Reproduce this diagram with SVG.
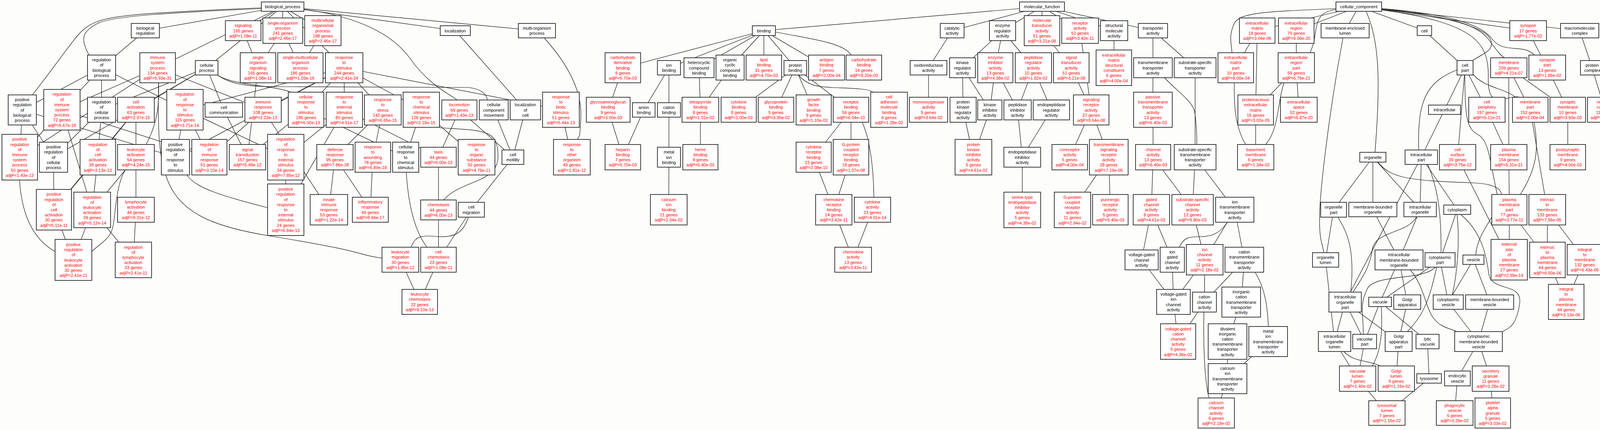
<svg xmlns="http://www.w3.org/2000/svg" width="4157" height="1101" viewBox="0 0 4157 1101">
<style>
.e line,.e path{stroke:#111;stroke-width:1.2;fill:none}
.n rect{fill:#fff;stroke:#2b2b2b;stroke-width:1.8}
.n text{font-family:"Liberation Sans",Arial,sans-serif;font-size:11px;text-anchor:middle}
.r text{fill:#f00}
.k text{fill:#000}
</style>
<rect width="4157" height="1101" fill="#fdfdfb"/>
<g id="connectors" class="e">
<line x1="723.5" y1="17" x2="372" y2="78.5"/>
<line x1="723.5" y1="17" x2="622.5" y2="78.5"/>
<line x1="723.5" y1="17" x2="724" y2="78.5"/>
<line x1="723.5" y1="17" x2="826.5" y2="78.5"/>
<line x1="723.5" y1="17" x2="1165.5" y2="78.5"/>
<line x1="723.5" y1="17" x2="1374.5" y2="78.5"/>
<line x1="723.5" y1="17" x2="403.5" y2="173.5"/>
<line x1="723.5" y1="17" x2="529" y2="173.5"/>
<line x1="723.5" y1="17" x2="881" y2="173.5"/>
<path d="M778,24 C900,40 1000,80 1050,150 S1150,240 1170,256"/>
<path d="M669,22 C450,32 290,40 250,60 S205,100 228,141"/>
<path d="M669,20 C450,30 300,35 250,55 S205,85 83,243"/>
<line x1="372" y1="78.5" x2="260" y2="173"/>
<line x1="622.5" y1="78.5" x2="660.5" y2="173.5"/>
<line x1="724" y1="78.5" x2="660.5" y2="173.5"/>
<line x1="724" y1="78.5" x2="769" y2="173.5"/>
<line x1="826.5" y1="78.5" x2="769" y2="173.5"/>
<line x1="260" y1="173" x2="57" y2="281.5"/>
<line x1="260" y1="173" x2="158.5" y2="281"/>
<line x1="260" y1="173" x2="260" y2="281"/>
<line x1="260" y1="173" x2="473.5" y2="281"/>
<line x1="403.5" y1="173.5" x2="158.5" y2="281"/>
<line x1="403.5" y1="173.5" x2="673.5" y2="281"/>
<path d="M406,212 L406,250 C405,300 390,340 374,370"/>
<line x1="403.5" y1="173.5" x2="50.5" y2="402.5"/>
<path d="M406,212 C400,480 420,560 690,604 S900,650 978,661"/>
<line x1="529" y1="173.5" x2="260" y2="281"/>
<line x1="529" y1="173.5" x2="348" y2="281"/>
<line x1="529" y1="173.5" x2="573" y2="281.5"/>
<path d="M556,192 C600,220 700,218 745,236"/>
<path d="M558,193 C600,222 650,222 750,222 L1200,224 C1230,228 1245,240 1248,256"/>
<line x1="529" y1="173.5" x2="137" y2="402.5"/>
<line x1="660.5" y1="173.5" x2="633.5" y2="402.5"/>
<line x1="881" y1="173.5" x2="473.5" y2="281"/>
<line x1="881" y1="173.5" x2="673.5" y2="281"/>
<line x1="881" y1="173.5" x2="783.5" y2="281"/>
<line x1="881" y1="173.5" x2="881.5" y2="281"/>
<line x1="881" y1="173.5" x2="980" y2="281.5"/>
<line x1="881" y1="173.5" x2="1078.5" y2="281"/>
<line x1="881" y1="173.5" x2="1436" y2="281"/>
<line x1="881" y1="173.5" x2="449" y2="402.5"/>
<line x1="1165.5" y1="78.5" x2="1345" y2="281.5"/>
<path d="M1393,97 C1450,160 1490,230 1487,300 S1482,340 1479,357"/>
<line x1="57" y1="281.5" x2="50.5" y2="402.5"/>
<line x1="57" y1="281.5" x2="137" y2="402.5"/>
<line x1="57" y1="281.5" x2="449" y2="402.5"/>
<line x1="158.5" y1="281" x2="50.5" y2="402.5"/>
<line x1="158.5" y1="281" x2="236" y2="537.5"/>
<line x1="158.5" y1="281" x2="536" y2="402.5"/>
<line x1="260" y1="281" x2="137" y2="402.5"/>
<line x1="260" y1="281" x2="250.5" y2="402.5"/>
<line x1="348" y1="281" x2="250.5" y2="402.5"/>
<line x1="348" y1="281" x2="348" y2="402.5"/>
<line x1="348" y1="281" x2="138" y2="537"/>
<line x1="473.5" y1="281" x2="449" y2="402.5"/>
<line x1="473.5" y1="281" x2="536" y2="402.5"/>
<line x1="473.5" y1="281" x2="731.5" y2="402.5"/>
<line x1="573" y1="281.5" x2="633.5" y2="402.5"/>
<line x1="673.5" y1="281" x2="536" y2="402.5"/>
<line x1="673.5" y1="281" x2="842" y2="537"/>
<line x1="783.5" y1="281" x2="633.5" y2="402.5"/>
<line x1="783.5" y1="281" x2="1038.5" y2="402.5"/>
<line x1="881.5" y1="281" x2="731.5" y2="402.5"/>
<line x1="881.5" y1="281" x2="1122.5" y2="402.5"/>
<line x1="881.5" y1="281" x2="731.5" y2="537"/>
<line x1="980" y1="281.5" x2="857.5" y2="402.5"/>
<line x1="980" y1="281.5" x2="954.5" y2="402.5"/>
<line x1="1078.5" y1="281" x2="1038.5" y2="402.5"/>
<line x1="1078.5" y1="281" x2="1220" y2="402.5"/>
<path d="M1125,327 C1240,335 1275,330 1275,400 S1180,460 1136,512"/>
<line x1="1176" y1="281.5" x2="1122.5" y2="402.5"/>
<line x1="1176" y1="281.5" x2="1313" y2="402.5"/>
<line x1="1264" y1="281.5" x2="1313" y2="402.5"/>
<line x1="1345" y1="281.5" x2="1313" y2="402.5"/>
<line x1="1436" y1="281" x2="1464" y2="402.5"/>
<path d="M50,461 C55,540 80,610 141,644"/>
<line x1="137" y1="402.5" x2="138" y2="537"/>
<line x1="250.5" y1="402.5" x2="138" y2="537"/>
<line x1="250.5" y1="402.5" x2="236" y2="537.5"/>
<line x1="348" y1="402.5" x2="236" y2="537.5"/>
<line x1="348" y1="402.5" x2="348" y2="537"/>
<path d="M321,435 C298,470 296,540 290,576 S260,620 235,644"/>
<path d="M478,448 C500,480 560,500 686,532"/>
<line x1="731.5" y1="402.5" x2="731.5" y2="537"/>
<line x1="857.5" y1="402.5" x2="842" y2="537"/>
<line x1="857.5" y1="402.5" x2="948" y2="537"/>
<line x1="954.5" y1="402.5" x2="948" y2="537"/>
<path d="M1040,441 C1045,520 1060,590 1093,633"/>
<line x1="1122.5" y1="402.5" x2="1122.5" y2="537.5"/>
<line x1="1313" y1="402.5" x2="1206.5" y2="537"/>
<line x1="138" y1="537" x2="188" y2="665.5"/>
<line x1="236" y1="537.5" x2="188" y2="665.5"/>
<line x1="236" y1="537.5" x2="341.5" y2="665.5"/>
<line x1="348" y1="537" x2="341.5" y2="665.5"/>
<line x1="1122.5" y1="537.5" x2="1122.5" y2="665"/>
<line x1="1206.5" y1="537" x2="1122.5" y2="665"/>
<path d="M1199,556 C1185,600 1160,610 1110,605 S1060,620 1052,633"/>
<line x1="1025" y1="665" x2="1074.5" y2="773"/>
<line x1="1122.5" y1="665" x2="1074.5" y2="773"/>
<line x1="2667.5" y1="17" x2="1955.5" y2="78.5"/>
<line x1="2667.5" y1="17" x2="2437.5" y2="78.5"/>
<line x1="2667.5" y1="17" x2="2566.5" y2="78.5"/>
<line x1="2667.5" y1="17" x2="2667.5" y2="78.5"/>
<line x1="2667.5" y1="17" x2="2765" y2="78.5"/>
<line x1="2667.5" y1="17" x2="2852" y2="78.5"/>
<line x1="2667.5" y1="17" x2="2951.5" y2="78.5"/>
<line x1="1955.5" y1="78.5" x2="1594.5" y2="173.5"/>
<line x1="1955.5" y1="78.5" x2="1712.5" y2="173.5"/>
<line x1="1955.5" y1="78.5" x2="1789.5" y2="173.5"/>
<line x1="1955.5" y1="78.5" x2="1869" y2="173"/>
<line x1="1955.5" y1="78.5" x2="1955.5" y2="173"/>
<line x1="1955.5" y1="78.5" x2="2036" y2="173.5"/>
<line x1="1955.5" y1="78.5" x2="2116" y2="173"/>
<path d="M1985,82 C2080,100 2160,110 2179,141"/>
<line x1="1594.5" y1="173.5" x2="1557" y2="281"/>
<line x1="1557" y1="281" x2="1594.5" y2="402.5"/>
<line x1="1648" y1="281.5" x2="1594.5" y2="402.5"/>
<line x1="1712.5" y1="173.5" x2="1648" y2="281.5"/>
<line x1="1712.5" y1="173.5" x2="1712.5" y2="281.5"/>
<line x1="1712.5" y1="281.5" x2="1712.5" y2="402.5"/>
<line x1="1712.5" y1="402.5" x2="1712" y2="537"/>
<line x1="1789.5" y1="173.5" x2="1793" y2="281"/>
<line x1="1869" y1="173" x2="1793" y2="281"/>
<line x1="1793" y1="281" x2="1793" y2="402.5"/>
<line x1="2036" y1="173.5" x2="1891" y2="281"/>
<line x1="2036" y1="173.5" x2="1986.5" y2="281"/>
<line x1="2036" y1="173.5" x2="2083" y2="281.5"/>
<line x1="2036" y1="173.5" x2="2178.5" y2="281"/>
<path d="M2045,193 C2070,222 2100,222 2130,224 S2220,225 2235,236"/>
<line x1="2178.5" y1="281" x2="2083" y2="402.5"/>
<line x1="2178.5" y1="281" x2="2178.5" y2="402.5"/>
<path d="M2207,313 C2220,340 2236,400 2237,505"/>
<line x1="2083" y1="402.5" x2="2134.5" y2="537"/>
<line x1="2178.5" y1="402.5" x2="2134.5" y2="537"/>
<line x1="2134.5" y1="537" x2="2184" y2="665"/>
<line x1="2233.5" y1="537" x2="2184" y2="665"/>
<line x1="2437.5" y1="78.5" x2="2377" y2="173.5"/>
<line x1="2377" y1="173.5" x2="2377" y2="281"/>
<line x1="2566.5" y1="78.5" x2="2464" y2="173.5"/>
<line x1="2566.5" y1="78.5" x2="2548" y2="173.5"/>
<line x1="2566.5" y1="78.5" x2="2645.5" y2="173.5"/>
<line x1="2464" y1="173.5" x2="2465.5" y2="281"/>
<line x1="2464" y1="173.5" x2="2534" y2="281.5"/>
<line x1="2548" y1="173.5" x2="2534" y2="281.5"/>
<line x1="2548" y1="173.5" x2="2605" y2="281.5"/>
<line x1="2645.5" y1="173.5" x2="2605" y2="281.5"/>
<line x1="2645.5" y1="173.5" x2="2691.5" y2="281.5"/>
<line x1="2465.5" y1="281" x2="2492" y2="402.5"/>
<line x1="2534" y1="281.5" x2="2492" y2="402.5"/>
<line x1="2605" y1="281.5" x2="2617" y2="402.5"/>
<line x1="2691.5" y1="281.5" x2="2617" y2="402.5"/>
<line x1="2617" y1="402.5" x2="2617" y2="537.5"/>
<line x1="2667.5" y1="78.5" x2="2742.5" y2="173.5"/>
<line x1="2765" y1="78.5" x2="2793.5" y2="281.5"/>
<line x1="2742.5" y1="173.5" x2="2793.5" y2="281.5"/>
<line x1="2793.5" y1="281.5" x2="2738.5" y2="402.5"/>
<line x1="2793.5" y1="281.5" x2="2838.5" y2="402.5"/>
<line x1="2838.5" y1="402.5" x2="2745.5" y2="537.5"/>
<line x1="2838.5" y1="402.5" x2="2842.5" y2="537"/>
<line x1="2852" y1="78.5" x2="2851.5" y2="173.5"/>
<line x1="2951.5" y1="78.5" x2="2951.5" y2="173.5"/>
<line x1="2951.5" y1="78.5" x2="3059.5" y2="173.5"/>
<line x1="2951.5" y1="173.5" x2="2951.5" y2="281"/>
<path d="M2981,199 C3020,240 3055,260 3059,290 S3064,340 3064,370"/>
<line x1="3059.5" y1="173.5" x2="3059.5" y2="402.5"/>
<line x1="2951.5" y1="281" x2="2952" y2="402.5"/>
<line x1="2952" y1="402.5" x2="2947.5" y2="537"/>
<line x1="2952" y1="402.5" x2="3053" y2="537"/>
<line x1="3059.5" y1="402.5" x2="3053" y2="537"/>
<line x1="3059.5" y1="402.5" x2="3161" y2="537"/>
<line x1="2947.5" y1="537" x2="2922.5" y2="665.5"/>
<line x1="2947.5" y1="537" x2="3001" y2="665"/>
<line x1="3053" y1="537" x2="3084" y2="665"/>
<line x1="3161" y1="537" x2="3084" y2="665"/>
<line x1="3161" y1="537" x2="3185.5" y2="665"/>
<path d="M3142,570 C3120,600 3100,606 3070,606 S3030,610 3019,633"/>
<line x1="2922.5" y1="665.5" x2="3004" y2="773"/>
<line x1="3001" y1="665" x2="3004" y2="773"/>
<line x1="3084" y1="665" x2="3004" y2="773"/>
<line x1="3084" y1="665" x2="3083.5" y2="773.5"/>
<line x1="3185.5" y1="665" x2="3083.5" y2="773.5"/>
<line x1="3185.5" y1="665" x2="3177.5" y2="773.5"/>
<path d="M3213,697 C3240,740 3245,790 3247,836"/>
<line x1="3004" y1="773" x2="3016" y2="874.5"/>
<line x1="3083.5" y1="773.5" x2="3016" y2="874.5"/>
<path d="M3082,799 C3080,900 3085,980 3095,1019"/>
<line x1="3177.5" y1="773.5" x2="3142.5" y2="874.5"/>
<line x1="3142.5" y1="874.5" x2="3142.5" y2="969.5"/>
<line x1="3246.5" y1="874.5" x2="3142.5" y2="969.5"/>
<line x1="3142.5" y1="969.5" x2="3113.5" y2="1057.5"/>
<line x1="3478.5" y1="17" x2="3218.5" y2="78.5"/>
<line x1="3478.5" y1="17" x2="3318.5" y2="78.5"/>
<line x1="3478.5" y1="17" x2="3443.5" y2="78.5"/>
<path d="M3420,22 C3250,30 3175,30 3160,60 S3152,110 3154,135"/>
<path d="M3420,24 C3380,30 3372,50 3368,80 S3360,120 3354,135"/>
<line x1="3478.5" y1="17" x2="3646.5" y2="78.5"/>
<line x1="3478.5" y1="17" x2="3912" y2="78.5"/>
<line x1="3478.5" y1="17" x2="4044" y2="78.5"/>
<path d="M3497,29 C3530,100 3535,200 3520,390"/>
<path d="M3537,25 C3700,40 3780,60 3810,100 S3840,140 3851,148"/>
<path d="M3537,22 C3700,35 3790,60 3820,100 S3900,110 3928,141"/>
<path d="M3537,22 C3700,40 3800,70 3815,100 S3790,140 3770,155"/>
<path d="M3537,25 C3780,60 3812,110 3810,200 S3860,240 3890,249"/>
<path d="M3438,97 C3400,300 3378,500 3378,560 S3385,620 3389,647"/>
<line x1="3218.5" y1="78.5" x2="3163.5" y2="173.5"/>
<line x1="3218.5" y1="78.5" x2="3214.5" y2="281.5"/>
<line x1="3318.5" y1="78.5" x2="3318.5" y2="173.5"/>
<line x1="3318.5" y1="173.5" x2="3214.5" y2="281.5"/>
<line x1="3318.5" y1="173.5" x2="3325" y2="281"/>
<path d="M3287,212 C3270,260 3275,330 3240,370"/>
<path d="M3160,212 C3158,280 3165,330 3189,370"/>
<line x1="3214.5" y1="281.5" x2="3214.5" y2="402.5"/>
<line x1="3646.5" y1="78.5" x2="3750.5" y2="173.5"/>
<line x1="3912" y1="78.5" x2="3961" y2="173"/>
<line x1="4044" y1="78.5" x2="4076" y2="173.5"/>
<line x1="4076" y1="173.5" x2="4108" y2="281"/>
<line x1="3750.5" y1="173.5" x2="3698" y2="281"/>
<path d="M3730,179 C3650,210 3628,260 3632,384"/>
<line x1="3750.5" y1="173.5" x2="3806.5" y2="281"/>
<line x1="3750.5" y1="173.5" x2="3731.5" y2="402.5"/>
<path d="M3750,193 C3750,300 3755,330 3784,345 S3815,420 3833,498"/>
<path d="M3771,190 C3800,225 3850,225 3880,249"/>
<line x1="3862.5" y1="173.5" x2="3917.5" y2="281"/>
<line x1="3862.5" y1="173.5" x2="3862.5" y2="402.5"/>
<line x1="3862.5" y1="173.5" x2="4013.5" y2="281"/>
<line x1="3961" y1="173" x2="4013.5" y2="281"/>
<line x1="3806.5" y1="281" x2="3862.5" y2="402.5"/>
<path d="M3927,313 C3940,380 3935,430 3892,498"/>
<line x1="3917.5" y1="281" x2="3961" y2="537"/>
<line x1="4013.5" y1="281" x2="4013.5" y2="402.5"/>
<line x1="3862.5" y1="402.5" x2="3864" y2="537"/>
<line x1="3961" y1="537" x2="3961.5" y2="665.5"/>
<line x1="3961" y1="537" x2="4057" y2="665"/>
<line x1="3864" y1="537" x2="3863.5" y2="665"/>
<line x1="3864" y1="537" x2="3961.5" y2="665.5"/>
<line x1="3731.5" y1="402.5" x2="3863.5" y2="665"/>
<line x1="3961.5" y1="665.5" x2="4009.5" y2="773"/>
<line x1="4057" y1="665" x2="4009.5" y2="773"/>
<line x1="3698" y1="281" x2="3638.5" y2="402.5"/>
<line x1="3514.5" y1="402.5" x2="3514.5" y2="536.5"/>
<line x1="3514.5" y1="402.5" x2="3635.5" y2="536.5"/>
<line x1="3514.5" y1="402.5" x2="3414" y2="537"/>
<path d="M3527,415 C3560,455 3600,462 3766,468 S3782,560 3778,653"/>
<line x1="3638.5" y1="402.5" x2="3635.5" y2="536.5"/>
<line x1="3638.5" y1="402.5" x2="3730.5" y2="537"/>
<path d="M3655,421 C3680,480 3690,540 3689,647"/>
<line x1="3638.5" y1="402.5" x2="3443.5" y2="773.5"/>
<line x1="3635.5" y1="536.5" x2="3581.5" y2="665.5"/>
<line x1="3514.5" y1="536.5" x2="3581.5" y2="665.5"/>
<line x1="3414" y1="537" x2="3393.5" y2="665.5"/>
<path d="M3425,556 C3445,590 3470,630 3458,748"/>
<path d="M3626,556 C3600,600 3520,590 3513,640 S3480,720 3464,748"/>
<line x1="3393.5" y1="665.5" x2="3416.5" y2="874.5"/>
<line x1="3443.5" y1="773.5" x2="3416.5" y2="874.5"/>
<line x1="3443.5" y1="773.5" x2="3493.5" y2="874.5"/>
<line x1="3443.5" y1="773.5" x2="3580.5" y2="874.5"/>
<line x1="3581.5" y1="665.5" x2="3533" y2="773"/>
<line x1="3581.5" y1="665.5" x2="3602.5" y2="773.5"/>
<path d="M3610,691 C3645,730 3650,790 3670,815 S3710,840 3730,849"/>
<line x1="3686.5" y1="665.5" x2="3533" y2="773"/>
<path d="M3678,684 C3660,760 3650,800 3603,849"/>
<path d="M3675,684 C3640,720 3520,700 3500,740 S3490,800 3490,856"/>
<line x1="3686.5" y1="665.5" x2="3707.5" y2="773.5"/>
<line x1="3730.5" y1="537" x2="3686.5" y2="665.5"/>
<path d="M3730,549 C3738,620 3730,700 3718,755"/>
<path d="M3739,549 C3790,590 3805,650 3811,700 S3900,720 3890,780 S3860,840 3847,849"/>
<line x1="3772" y1="665" x2="3707.5" y2="773.5"/>
<line x1="3772" y1="665" x2="3813.5" y2="773.5"/>
<line x1="3533" y1="773" x2="3493.5" y2="874.5"/>
<line x1="3533" y1="773" x2="3654.5" y2="874.5"/>
<path d="M3536,785 C3540,850 3535,900 3513,937"/>
<line x1="3602.5" y1="773.5" x2="3580.5" y2="874.5"/>
<line x1="3707.5" y1="773.5" x2="3785" y2="874.5"/>
<line x1="3813.5" y1="773.5" x2="3785" y2="874.5"/>
<line x1="3493.5" y1="874.5" x2="3475.5" y2="969.5"/>
<line x1="3580.5" y1="874.5" x2="3574.5" y2="969.5"/>
<line x1="3416.5" y1="874.5" x2="3475.5" y2="969.5"/>
<path d="M3440,900 C3470,930 3500,920 3533,937"/>
<line x1="3654.5" y1="874.5" x2="3658.5" y2="969"/>
<line x1="3785" y1="874.5" x2="3731" y2="969"/>
<line x1="3785" y1="874.5" x2="3816" y2="969.5"/>
<line x1="3475.5" y1="969.5" x2="3550.5" y2="1057.5"/>
<line x1="3658.5" y1="969" x2="3550.5" y2="1057.5"/>
<line x1="3731" y1="969" x2="3724" y2="1057.5"/>
<line x1="3816" y1="969.5" x2="3821.5" y2="1057.5"/>
</g>
<g id="nodes">
<g id="biological_process" class="n k"><rect x="669" y="5" width="109" height="24"/><text x="723.5" y="21">biological_process</text></g>
<g id="biological_regulation" class="n k"><rect x="336" y="60" width="72" height="37"/><text x="372" y="75.9">biological<tspan x="372" dy="13.2">regulation</tspan></text></g>
<g id="signaling" class="n r"><rect x="577" y="53" width="91" height="51"/><text x="622.5" y="69.3">signaling<tspan x="622.5" dy="13.2">165 genes</tspan><tspan x="622.5" dy="13.2">adjP=1.08e-11</tspan></text></g>
<g id="single_organism_process" class="n r"><rect x="673" y="46" width="102" height="65"/><text x="724" y="62.7">single-organism<tspan x="724" dy="13.2">process</tspan><tspan x="724" dy="13.2">241 genes</tspan><tspan x="724" dy="13.2">adjP=2.46e-17</tspan></text></g>
<g id="multicellular_organismal_process" class="n r"><rect x="780" y="40" width="93" height="77"/><text x="826.5" y="56.1">multicellular<tspan x="826.5" dy="13.2">organismal</tspan><tspan x="826.5" dy="13.2">process</tspan><tspan x="826.5" dy="13.2">188 genes</tspan><tspan x="826.5" dy="13.2">adjP=2.46e-17</tspan></text></g>
<g id="regulation_of_biological_process" class="n k"><rect x="224" y="141" width="72" height="64"/><text x="260" y="157.2">regulation<tspan x="260" dy="13.2">of</tspan><tspan x="260" dy="13.2">biological</tspan><tspan x="260" dy="13.2">process</tspan></text></g>
<g id="immune_system_process" class="n r"><rect x="358" y="135" width="91" height="77"/><text x="403.5" y="151.1">immune<tspan x="403.5" dy="13.2">system</tspan><tspan x="403.5" dy="13.2">process</tspan><tspan x="403.5" dy="13.2">134 genes</tspan><tspan x="403.5" dy="13.2">adjP=5.93e-31</tspan></text></g>
<g id="cellular_process" class="n k"><rect x="500" y="155" width="58" height="37"/><text x="529" y="170.9">cellular<tspan x="529" dy="13.2">process</tspan></text></g>
<g id="single_organism_signaling" class="n r"><rect x="615" y="135" width="91" height="77"/><text x="660.5" y="151.1">single<tspan x="660.5" dy="13.2">organism</tspan><tspan x="660.5" dy="13.2">signaling</tspan><tspan x="660.5" dy="13.2">165 genes</tspan><tspan x="660.5" dy="13.2">adjP=1.08e-11</tspan></text></g>
<g id="single_multicellular_organism_process" class="n r"><rect x="711" y="135" width="116" height="77"/><text x="769" y="151.1">single-multicellular<tspan x="769" dy="13.2">organism</tspan><tspan x="769" dy="13.2">process</tspan><tspan x="769" dy="13.2">186 genes</tspan><tspan x="769" dy="13.2">adjP=1.03e-16</tspan></text></g>
<g id="response_to_stimulus" class="n r"><rect x="833" y="135" width="96" height="77"/><text x="881" y="151.1">response<tspan x="881" dy="13.2">to</tspan><tspan x="881" dy="13.2">stimulus</tspan><tspan x="881" dy="13.2">244 genes</tspan><tspan x="881" dy="13.2">adjP=2.41e-24</tspan></text></g>
<g id="localization" class="n k"><rect x="1127" y="66" width="77" height="25"/><text x="1165.5" y="82.5">localization</text></g>
<g id="multi_organism_process" class="n k"><rect x="1327" y="60" width="95" height="37"/><text x="1374.5" y="75.9">multi-organism<tspan x="1374.5" dy="13.2">process</tspan></text></g>
<g id="positive_regulation_of_biological_process" class="n k"><rect x="21" y="243" width="72" height="77"/><text x="57" y="259.1">positive<tspan x="57" dy="13.2">regulation</tspan><tspan x="57" dy="13.2">of</tspan><tspan x="57" dy="13.2">biological</tspan><tspan x="57" dy="13.2">process</tspan></text></g>
<g id="regulation_of_immune_system_process" class="n r"><rect x="112" y="229" width="93" height="104"/><text x="158.5" y="245.4">regulation<tspan x="158.5" dy="13.2">of</tspan><tspan x="158.5" dy="13.2">immune</tspan><tspan x="158.5" dy="13.2">system</tspan><tspan x="158.5" dy="13.2">process</tspan><tspan x="158.5" dy="13.2">72 genes</tspan><tspan x="158.5" dy="13.2">adjP=5.67e-18</tspan></text></g>
<g id="regulation_of_cellular_process" class="n k"><rect x="224" y="249" width="72" height="64"/><text x="260" y="265.2">regulation<tspan x="260" dy="13.2">of</tspan><tspan x="260" dy="13.2">cellular</tspan><tspan x="260" dy="13.2">process</tspan></text></g>
<g id="cell_activation" class="n r"><rect x="301" y="249" width="94" height="64"/><text x="348" y="265.2">cell<tspan x="348" dy="13.2">activation</tspan><tspan x="348" dy="13.2">63 genes</tspan><tspan x="348" dy="13.2">adjP=2.97e-15</tspan></text></g>
<g id="regulation_of_response_to_stimulus" class="n r"><rect x="427" y="229" width="93" height="104"/><text x="473.5" y="245.4">regulation<tspan x="473.5" dy="13.2">of</tspan><tspan x="473.5" dy="13.2">response</tspan><tspan x="473.5" dy="13.2">to</tspan><tspan x="473.5" dy="13.2">stimulus</tspan><tspan x="473.5" dy="13.2">115 genes</tspan><tspan x="473.5" dy="13.2">adjP=3.71e-14</tspan></text></g>
<g id="cell_communication" class="n k"><rect x="525" y="263" width="96" height="37"/><text x="573" y="278.9">cell<tspan x="573" dy="13.2">communication</tspan></text></g>
<g id="immune_response" class="n r"><rect x="627" y="249" width="93" height="64"/><text x="673.5" y="265.2">immune<tspan x="673.5" dy="13.2">response</tspan><tspan x="673.5" dy="13.2">108 genes</tspan><tspan x="673.5" dy="13.2">adjP=2.23e-13</tspan></text></g>
<g id="cellular_response_to_stimulus" class="n r"><rect x="738" y="236" width="91" height="90"/><text x="783.5" y="252">cellular<tspan x="783.5" dy="13.2">response</tspan><tspan x="783.5" dy="13.2">to</tspan><tspan x="783.5" dy="13.2">stimulus</tspan><tspan x="783.5" dy="13.2">186 genes</tspan><tspan x="783.5" dy="13.2">adjP=6.00e-13</tspan></text></g>
<g id="response_to_external_stimulus" class="n r"><rect x="835" y="236" width="93" height="90"/><text x="881.5" y="252">response<tspan x="881.5" dy="13.2">to</tspan><tspan x="881.5" dy="13.2">external</tspan><tspan x="881.5" dy="13.2">stimulus</tspan><tspan x="881.5" dy="13.2">80 genes</tspan><tspan x="881.5" dy="13.2">adjP=4.51e-17</tspan></text></g>
<g id="response_to_stress" class="n r"><rect x="933" y="243" width="94" height="77"/><text x="980" y="259.1">response<tspan x="980" dy="13.2">to</tspan><tspan x="980" dy="13.2">stress</tspan><tspan x="980" dy="13.2">142 genes</tspan><tspan x="980" dy="13.2">adjP=6.65e-15</tspan></text></g>
<g id="response_to_chemical_stimulus" class="n r"><rect x="1032" y="236" width="93" height="90"/><text x="1078.5" y="252">response<tspan x="1078.5" dy="13.2">to</tspan><tspan x="1078.5" dy="13.2">chemical</tspan><tspan x="1078.5" dy="13.2">stimulus</tspan><tspan x="1078.5" dy="13.2">126 genes</tspan><tspan x="1078.5" dy="13.2">adjP=2.18e-15</tspan></text></g>
<g id="locomotion" class="n r"><rect x="1131" y="256" width="90" height="51"/><text x="1176" y="272.3">locomotion<tspan x="1176" dy="13.2">69 genes</tspan><tspan x="1176" dy="13.2">adjP=1.43e-13</tspan></text></g>
<g id="cellular_component_movement" class="n k"><rect x="1227" y="256" width="74" height="51"/><text x="1264" y="272.3">cellular<tspan x="1264" dy="13.2">component</tspan><tspan x="1264" dy="13.2">movement</tspan></text></g>
<g id="localization_of_cell" class="n k"><rect x="1306" y="256" width="78" height="51"/><text x="1345" y="272.3">localization<tspan x="1345" dy="13.2">of</tspan><tspan x="1345" dy="13.2">cell</tspan></text></g>
<g id="response_to_biotic_stimulus" class="n r"><rect x="1389" y="236" width="94" height="90"/><text x="1436" y="252">response<tspan x="1436" dy="13.2">to</tspan><tspan x="1436" dy="13.2">biotic</tspan><tspan x="1436" dy="13.2">stimulus</tspan><tspan x="1436" dy="13.2">51 genes</tspan><tspan x="1436" dy="13.2">adjP=5.44e-13</tspan></text></g>
<g id="positive_regulation_of_immune_system_process" class="n r"><rect x="5" y="344" width="91" height="117"/><text x="50.5" y="360.3">positive<tspan x="50.5" dy="13.2">regulation</tspan><tspan x="50.5" dy="13.2">of</tspan><tspan x="50.5" dy="13.2">immune</tspan><tspan x="50.5" dy="13.2">system</tspan><tspan x="50.5" dy="13.2">process</tspan><tspan x="50.5" dy="13.2">50 genes</tspan><tspan x="50.5" dy="13.2">adjP=1.43e-13</tspan></text></g>
<g id="positive_regulation_of_cellular_process" class="n k"><rect x="101" y="364" width="72" height="77"/><text x="137" y="380.1">positive<tspan x="137" dy="13.2">regulation</tspan><tspan x="137" dy="13.2">of</tspan><tspan x="137" dy="13.2">cellular</tspan><tspan x="137" dy="13.2">process</tspan></text></g>
<g id="regulation_of_cell_activation" class="n r"><rect x="205" y="357" width="91" height="91"/><text x="250.5" y="373.5">regulation<tspan x="250.5" dy="13.2">of</tspan><tspan x="250.5" dy="13.2">cell</tspan><tspan x="250.5" dy="13.2">activation</tspan><tspan x="250.5" dy="13.2">39 genes</tspan><tspan x="250.5" dy="13.2">adjP=3.13e-13</tspan></text></g>
<g id="leukocyte_activation" class="n r"><rect x="301" y="370" width="94" height="65"/><text x="348" y="386.7">leukocyte<tspan x="348" dy="13.2">activation</tspan><tspan x="348" dy="13.2">54 genes</tspan><tspan x="348" dy="13.2">adjP=4.24e-15</tspan></text></g>
<g id="positive_regulation_of_response_to_stimulus" class="n k"><rect x="413" y="357" width="72" height="91"/><text x="449" y="373.5">positive<tspan x="449" dy="13.2">regulation</tspan><tspan x="449" dy="13.2">of</tspan><tspan x="449" dy="13.2">response</tspan><tspan x="449" dy="13.2">to</tspan><tspan x="449" dy="13.2">stimulus</tspan></text></g>
<g id="regulation_of_immune_response" class="n r"><rect x="491" y="357" width="90" height="91"/><text x="536" y="373.5">regulation<tspan x="536" dy="13.2">of</tspan><tspan x="536" dy="13.2">immune</tspan><tspan x="536" dy="13.2">response</tspan><tspan x="536" dy="13.2">51 genes</tspan><tspan x="536" dy="13.2">adjP=3.10e-14</tspan></text></g>
<g id="signal_transduction" class="n r"><rect x="587" y="370" width="93" height="65"/><text x="633.5" y="386.7">signal<tspan x="633.5" dy="13.2">transduction</tspan><tspan x="633.5" dy="13.2">157 genes</tspan><tspan x="633.5" dy="13.2">adjP=5.49e-12</tspan></text></g>
<g id="regulation_of_response_to_external_stimulus" class="n r"><rect x="685" y="344" width="93" height="117"/><text x="731.5" y="360.3">regulation<tspan x="731.5" dy="13.2">of</tspan><tspan x="731.5" dy="13.2">response</tspan><tspan x="731.5" dy="13.2">to</tspan><tspan x="731.5" dy="13.2">external</tspan><tspan x="731.5" dy="13.2">stimulus</tspan><tspan x="731.5" dy="13.2">34 genes</tspan><tspan x="731.5" dy="13.2">adjP=7.85e-12</tspan></text></g>
<g id="defense_response" class="n r"><rect x="811" y="370" width="93" height="65"/><text x="857.5" y="386.7">defense<tspan x="857.5" dy="13.2">response</tspan><tspan x="857.5" dy="13.2">95 genes</tspan><tspan x="857.5" dy="13.2">adjP=7.86e-28</tspan></text></g>
<g id="response_to_wounding" class="n r"><rect x="909" y="364" width="91" height="77"/><text x="954.5" y="380.1">response<tspan x="954.5" dy="13.2">to</tspan><tspan x="954.5" dy="13.2">wounding</tspan><tspan x="954.5" dy="13.2">78 genes</tspan><tspan x="954.5" dy="13.2">adjP=6.89e-18</tspan></text></g>
<g id="cellular_response_to_chemical_stimulus" class="n k"><rect x="1005" y="364" width="67" height="77"/><text x="1038.5" y="380.1">cellular<tspan x="1038.5" dy="13.2">response</tspan><tspan x="1038.5" dy="13.2">to</tspan><tspan x="1038.5" dy="13.2">chemical</tspan><tspan x="1038.5" dy="13.2">stimulus</tspan></text></g>
<g id="taxis" class="n r"><rect x="1077" y="377" width="91" height="51"/><text x="1122.5" y="393.3">taxis<tspan x="1122.5" dy="13.2">44 genes</tspan><tspan x="1122.5" dy="13.2">adjP=6.00e-13</tspan></text></g>
<g id="response_to_organic_substance" class="n r"><rect x="1173" y="357" width="94" height="91"/><text x="1220" y="373.5">response<tspan x="1220" dy="13.2">to</tspan><tspan x="1220" dy="13.2">organic</tspan><tspan x="1220" dy="13.2">substance</tspan><tspan x="1220" dy="13.2">92 genes</tspan><tspan x="1220" dy="13.2">adjP=4.76e-11</tspan></text></g>
<g id="cell_motility" class="n k"><rect x="1285" y="384" width="56" height="37"/><text x="1313" y="399.9">cell<tspan x="1313" dy="13.2">motility</tspan></text></g>
<g id="response_to_other_organism" class="n r"><rect x="1417" y="357" width="94" height="91"/><text x="1464" y="373.5">response<tspan x="1464" dy="13.2">to</tspan><tspan x="1464" dy="13.2">other</tspan><tspan x="1464" dy="13.2">organism</tspan><tspan x="1464" dy="13.2">49 genes</tspan><tspan x="1464" dy="13.2">adjP=1.81e-12</tspan></text></g>
<g id="positive_regulation_of_cell_activation" class="n r"><rect x="93" y="485" width="90" height="104"/><text x="138" y="501.4">positive<tspan x="138" dy="13.2">regulation</tspan><tspan x="138" dy="13.2">of</tspan><tspan x="138" dy="13.2">cell</tspan><tspan x="138" dy="13.2">activation</tspan><tspan x="138" dy="13.2">30 genes</tspan><tspan x="138" dy="13.2">adjP=5.11e-11</tspan></text></g>
<g id="regulation_of_leukocyte_activation" class="n r"><rect x="189" y="492" width="94" height="91"/><text x="236" y="508.5">regulation<tspan x="236" dy="13.2">of</tspan><tspan x="236" dy="13.2">leukocyte</tspan><tspan x="236" dy="13.2">activation</tspan><tspan x="236" dy="13.2">39 genes</tspan><tspan x="236" dy="13.2">adjP=5.12e-14</tspan></text></g>
<g id="lymphocyte_activation" class="n r"><rect x="301" y="505" width="94" height="64"/><text x="348" y="521.2">lymphocyte<tspan x="348" dy="13.2">activation</tspan><tspan x="348" dy="13.2">44 genes</tspan><tspan x="348" dy="13.2">adjP=9.31e-12</tspan></text></g>
<g id="positive_regulation_of_response_to_external_stimulus" class="n r"><rect x="685" y="471" width="93" height="132"/><text x="731.5" y="488.2">positive<tspan x="731.5" dy="13.2">regulation</tspan><tspan x="731.5" dy="13.2">of</tspan><tspan x="731.5" dy="13.2">response</tspan><tspan x="731.5" dy="13.2">to</tspan><tspan x="731.5" dy="13.2">external</tspan><tspan x="731.5" dy="13.2">stimulus</tspan><tspan x="731.5" dy="13.2">24 genes</tspan><tspan x="731.5" dy="13.2">adjP=6.84e-13</tspan></text></g>
<g id="innate_immune_response" class="n r"><rect x="794" y="498" width="96" height="78"/><text x="842" y="514.6">innate<tspan x="842" dy="13.2">immune</tspan><tspan x="842" dy="13.2">response</tspan><tspan x="842" dy="13.2">53 genes</tspan><tspan x="842" dy="13.2">adjP=1.22e-14</tspan></text></g>
<g id="inflammatory_response" class="n r"><rect x="902" y="505" width="92" height="64"/><text x="948" y="521.2">inflammatory<tspan x="948" dy="13.2">response</tspan><tspan x="948" dy="13.2">49 genes</tspan><tspan x="948" dy="13.2">adjP=8.94e-17</tspan></text></g>
<g id="chemotaxis" class="n r"><rect x="1077" y="512" width="91" height="51"/><text x="1122.5" y="528.3">chemotaxis<tspan x="1122.5" dy="13.2">44 genes</tspan><tspan x="1122.5" dy="13.2">adjP=6.00e-13</tspan></text></g>
<g id="cell_migration" class="n k"><rect x="1173" y="518" width="67" height="38"/><text x="1206.5" y="534.4">cell<tspan x="1206.5" dy="13.2">migration</tspan></text></g>
<g id="positive_regulation_of_leukocyte_activation" class="n r"><rect x="141" y="613" width="94" height="105"/><text x="188" y="629.9">positive<tspan x="188" dy="13.2">regulation</tspan><tspan x="188" dy="13.2">of</tspan><tspan x="188" dy="13.2">leukocyte</tspan><tspan x="188" dy="13.2">activation</tspan><tspan x="188" dy="13.2">30 genes</tspan><tspan x="188" dy="13.2">adjP=2.41e-11</tspan></text></g>
<g id="regulation_of_lymphocyte_activation" class="n r"><rect x="295" y="620" width="93" height="91"/><text x="341.5" y="636.5">regulation<tspan x="341.5" dy="13.2">of</tspan><tspan x="341.5" dy="13.2">lymphocyte</tspan><tspan x="341.5" dy="13.2">activation</tspan><tspan x="341.5" dy="13.2">33 genes</tspan><tspan x="341.5" dy="13.2">adjP=2.41e-11</tspan></text></g>
<g id="leukocyte_migration" class="n r"><rect x="978" y="633" width="94" height="64"/><text x="1025" y="649.2">leukocyte<tspan x="1025" dy="13.2">migration</tspan><tspan x="1025" dy="13.2">30 genes</tspan><tspan x="1025" dy="13.2">adjP=1.85e-12</tspan></text></g>
<g id="cell_chemotaxis" class="n r"><rect x="1077" y="633" width="91" height="64"/><text x="1122.5" y="649.2">cell<tspan x="1122.5" dy="13.2">chemotaxis</tspan><tspan x="1122.5" dy="13.2">23 genes</tspan><tspan x="1122.5" dy="13.2">adjP=1.08e-11</tspan></text></g>
<g id="leukocyte_chemotaxis" class="n r"><rect x="1029" y="741" width="91" height="64"/><text x="1074.5" y="757.2">leukocyte<tspan x="1074.5" dy="13.2">chemotaxis</tspan><tspan x="1074.5" dy="13.2">22 genes</tspan><tspan x="1074.5" dy="13.2">adjP=9.10e-13</tspan></text></g>
<g id="molecular_function" class="n k"><rect x="2610" y="5" width="115" height="24"/><text x="2667.5" y="21">molecular_function</text></g>
<g id="binding" class="n k"><rect x="1926" y="66" width="59" height="25"/><text x="1955.5" y="82.5">binding</text></g>
<g id="carbohydrate_derivative_binding" class="n r"><rect x="1549" y="135" width="91" height="77"/><text x="1594.5" y="151.1">carbohydrate<tspan x="1594.5" dy="13.2">derivative</tspan><tspan x="1594.5" dy="13.2">binding</tspan><tspan x="1594.5" dy="13.2">9 genes</tspan><tspan x="1594.5" dy="13.2">adjP=5.70e-03</tspan></text></g>
<g id="ion_binding" class="n k"><rect x="1683" y="155" width="59" height="37"/><text x="1712.5" y="170.9">ion<tspan x="1712.5" dy="13.2">binding</tspan></text></g>
<g id="heterocyclic_compound_binding" class="n k"><rect x="1751" y="148" width="77" height="51"/><text x="1789.5" y="164.3">heterocyclic<tspan x="1789.5" dy="13.2">compound</tspan><tspan x="1789.5" dy="13.2">binding</tspan></text></g>
<g id="organic_cyclic_compound_binding" class="n k"><rect x="1833" y="141" width="72" height="64"/><text x="1869" y="157.2">organic<tspan x="1869" dy="13.2">cyclic</tspan><tspan x="1869" dy="13.2">compound</tspan><tspan x="1869" dy="13.2">binding</tspan></text></g>
<g id="lipid_binding" class="n r"><rect x="1910" y="141" width="91" height="64"/><text x="1955.5" y="157.2">lipid<tspan x="1955.5" dy="13.2">binding</tspan><tspan x="1955.5" dy="13.2">31 genes</tspan><tspan x="1955.5" dy="13.2">adjP=4.70e-03</tspan></text></g>
<g id="protein_binding" class="n k"><rect x="2007" y="155" width="58" height="37"/><text x="2036" y="170.9">protein<tspan x="2036" dy="13.2">binding</tspan></text></g>
<g id="antigen_binding" class="n r"><rect x="2070" y="141" width="92" height="64"/><text x="2116" y="157.2">antigen<tspan x="2116" dy="13.2">binding</tspan><tspan x="2116" dy="13.2">7 genes</tspan><tspan x="2116" dy="13.2">adjP=2.00e-04</tspan></text></g>
<g id="carbohydrate_binding" class="n r"><rect x="2166" y="141" width="91" height="64"/><text x="2211.5" y="157.2">carbohydrate<tspan x="2211.5" dy="13.2">binding</tspan><tspan x="2211.5" dy="13.2">14 genes</tspan><tspan x="2211.5" dy="13.2">adjP=8.20e-03</tspan></text></g>
<g id="glycosaminoglycan_binding" class="n r"><rect x="1501" y="249" width="112" height="64"/><text x="1557" y="265.2">glycosaminoglycan<tspan x="1557" dy="13.2">binding</tspan><tspan x="1557" dy="13.2">9 genes</tspan><tspan x="1557" dy="13.2">adjP=3.00e-03</tspan></text></g>
<g id="anion_binding" class="n k"><rect x="1619" y="263" width="58" height="37"/><text x="1648" y="278.9">anion<tspan x="1648" dy="13.2">binding</tspan></text></g>
<g id="cation_binding" class="n k"><rect x="1683" y="263" width="59" height="37"/><text x="1712.5" y="278.9">cation<tspan x="1712.5" dy="13.2">binding</tspan></text></g>
<g id="tetrapyrrole_binding" class="n r"><rect x="1746" y="249" width="94" height="64"/><text x="1793" y="265.2">tetrapyrrole<tspan x="1793" dy="13.2">binding</tspan><tspan x="1793" dy="13.2">8 genes</tspan><tspan x="1793" dy="13.2">adjP=1.01e-02</tspan></text></g>
<g id="cytokine_binding" class="n r"><rect x="1846" y="249" width="90" height="64"/><text x="1891" y="265.2">cytokine<tspan x="1891" dy="13.2">binding</tspan><tspan x="1891" dy="13.2">8 genes</tspan><tspan x="1891" dy="13.2">adjP=1.00e-03</tspan></text></g>
<g id="glycoprotein_binding" class="n r"><rect x="1941" y="249" width="91" height="64"/><text x="1986.5" y="265.2">glycoprotein<tspan x="1986.5" dy="13.2">binding</tspan><tspan x="1986.5" dy="13.2">5 genes</tspan><tspan x="1986.5" dy="13.2">adjP=3.30e-02</tspan></text></g>
<g id="growth_factor_binding" class="n r"><rect x="2038" y="243" width="90" height="77"/><text x="2083" y="259.1">growth<tspan x="2083" dy="13.2">factor</tspan><tspan x="2083" dy="13.2">binding</tspan><tspan x="2083" dy="13.2">9 genes</tspan><tspan x="2083" dy="13.2">adjP=1.10e-03</tspan></text></g>
<g id="receptor_binding" class="n r"><rect x="2133" y="249" width="91" height="64"/><text x="2178.5" y="265.2">receptor<tspan x="2178.5" dy="13.2">binding</tspan><tspan x="2178.5" dy="13.2">56 genes</tspan><tspan x="2178.5" dy="13.2">adjP=6.04e-10</tspan></text></g>
<g id="cell_adhesion_molecule_binding" class="n r"><rect x="2229" y="236" width="94" height="90"/><text x="2276" y="252">cell<tspan x="2276" dy="13.2">adhesion</tspan><tspan x="2276" dy="13.2">molecule</tspan><tspan x="2276" dy="13.2">binding</tspan><tspan x="2276" dy="13.2">6 genes</tspan><tspan x="2276" dy="13.2">adjP=1.28e-02</tspan></text></g>
<g id="heparin_binding" class="n r"><rect x="1549" y="370" width="91" height="65"/><text x="1594.5" y="386.7">heparin<tspan x="1594.5" dy="13.2">binding</tspan><tspan x="1594.5" dy="13.2">7 genes</tspan><tspan x="1594.5" dy="13.2">adjP=5.70e-03</tspan></text></g>
<g id="metal_ion_binding" class="n k"><rect x="1683" y="377" width="59" height="51"/><text x="1712.5" y="393.3">metal<tspan x="1712.5" dy="13.2">ion</tspan><tspan x="1712.5" dy="13.2">binding</tspan></text></g>
<g id="heme_binding" class="n r"><rect x="1748" y="370" width="90" height="65"/><text x="1793" y="386.7">heme<tspan x="1793" dy="13.2">binding</tspan><tspan x="1793" dy="13.2">8 genes</tspan><tspan x="1793" dy="13.2">adjP=6.40e-03</tspan></text></g>
<g id="cytokine_receptor_binding" class="n r"><rect x="2038" y="364" width="90" height="77"/><text x="2083" y="380.1">cytokine<tspan x="2083" dy="13.2">receptor</tspan><tspan x="2083" dy="13.2">binding</tspan><tspan x="2083" dy="13.2">23 genes</tspan><tspan x="2083" dy="13.2">adjP=2.08e-10</tspan></text></g>
<g id="G_protein_coupled_receptor_binding" class="n r"><rect x="2133" y="357" width="91" height="91"/><text x="2178.5" y="373.5">G-protein<tspan x="2178.5" dy="13.2">coupled</tspan><tspan x="2178.5" dy="13.2">receptor</tspan><tspan x="2178.5" dy="13.2">binding</tspan><tspan x="2178.5" dy="13.2">18 genes</tspan><tspan x="2178.5" dy="13.2">adjP=1.07e-08</tspan></text></g>
<g id="calcium_ion_binding" class="n r"><rect x="1665" y="498" width="94" height="78"/><text x="1712" y="514.6">calcium<tspan x="1712" dy="13.2">ion</tspan><tspan x="1712" dy="13.2">binding</tspan><tspan x="1712" dy="13.2">21 genes</tspan><tspan x="1712" dy="13.2">adjP=2.04e-02</tspan></text></g>
<g id="chemokine_receptor_binding" class="n r"><rect x="2088" y="498" width="93" height="78"/><text x="2134.5" y="514.6">chemokine<tspan x="2134.5" dy="13.2">receptor</tspan><tspan x="2134.5" dy="13.2">binding</tspan><tspan x="2134.5" dy="13.2">14 genes</tspan><tspan x="2134.5" dy="13.2">adjP=3.42e-11</tspan></text></g>
<g id="cytokine_activity" class="n r"><rect x="2187" y="505" width="93" height="64"/><text x="2233.5" y="521.2">cytokine<tspan x="2233.5" dy="13.2">activity</tspan><tspan x="2233.5" dy="13.2">23 genes</tspan><tspan x="2233.5" dy="13.2">adjP=4.01e-14</tspan></text></g>
<g id="chemokine_activity" class="n r"><rect x="2137" y="633" width="94" height="64"/><text x="2184" y="649.2">chemokine<tspan x="2184" dy="13.2">activity</tspan><tspan x="2184" dy="13.2">13 genes</tspan><tspan x="2184" dy="13.2">adjP=3.42e-11</tspan></text></g>
<g id="catalytic_activity" class="n k"><rect x="2407" y="60" width="61" height="37"/><text x="2437.5" y="75.9">catalytic<tspan x="2437.5" dy="13.2">activity</tspan></text></g>
<g id="oxidoreductase_activity" class="n k"><rect x="2330" y="155" width="94" height="37"/><text x="2377" y="170.9">oxidoreductase<tspan x="2377" dy="13.2">activity</tspan></text></g>
<g id="monooxygenase_activity" class="n r"><rect x="2328" y="249" width="98" height="64"/><text x="2377" y="265.2">monooxygenase<tspan x="2377" dy="13.2">activity</tspan><tspan x="2377" dy="13.2">5 genes</tspan><tspan x="2377" dy="13.2">adjP=3.64e-02</tspan></text></g>
<g id="enzyme_regulator_activity" class="n k"><rect x="2533" y="53" width="67" height="51"/><text x="2566.5" y="69.3">enzyme<tspan x="2566.5" dy="13.2">regulator</tspan><tspan x="2566.5" dy="13.2">activity</tspan></text></g>
<g id="kinase_regulator_activity" class="n k"><rect x="2431" y="148" width="66" height="51"/><text x="2464" y="164.3">kinase<tspan x="2464" dy="13.2">regulator</tspan><tspan x="2464" dy="13.2">activity</tspan></text></g>
<g id="protein_kinase_regulator_activity" class="n k"><rect x="2432" y="249" width="67" height="64"/><text x="2465.5" y="265.2">protein<tspan x="2465.5" dy="13.2">kinase</tspan><tspan x="2465.5" dy="13.2">regulator</tspan><tspan x="2465.5" dy="13.2">activity</tspan></text></g>
<g id="enzyme_inhibitor_activity" class="n r"><rect x="2503" y="135" width="90" height="77"/><text x="2548" y="151.1">enzyme<tspan x="2548" dy="13.2">inhibitor</tspan><tspan x="2548" dy="13.2">activity</tspan><tspan x="2548" dy="13.2">13 genes</tspan><tspan x="2548" dy="13.2">adjP=4.38e-02</tspan></text></g>
<g id="peptidase_regulator_activity" class="n r"><rect x="2599" y="135" width="93" height="77"/><text x="2645.5" y="151.1">peptidase<tspan x="2645.5" dy="13.2">regulator</tspan><tspan x="2645.5" dy="13.2">activity</tspan><tspan x="2645.5" dy="13.2">10 genes</tspan><tspan x="2645.5" dy="13.2">adjP=1.82e-02</tspan></text></g>
<g id="kinase_inhibitor_activity" class="n k"><rect x="2503" y="256" width="62" height="51"/><text x="2534" y="272.3">kinase<tspan x="2534" dy="13.2">inhibitor</tspan><tspan x="2534" dy="13.2">activity</tspan></text></g>
<g id="peptidase_inhibitor_activity" class="n k"><rect x="2570" y="256" width="70" height="51"/><text x="2605" y="272.3">peptidase<tspan x="2605" dy="13.2">inhibitor</tspan><tspan x="2605" dy="13.2">activity</tspan></text></g>
<g id="endopeptidase_regulator_activity" class="n k"><rect x="2645" y="256" width="93" height="51"/><text x="2691.5" y="272.3">endopeptidase<tspan x="2691.5" dy="13.2">regulator</tspan><tspan x="2691.5" dy="13.2">activity</tspan></text></g>
<g id="protein_kinase_inhibitor_activity" class="n r"><rect x="2445" y="357" width="94" height="91"/><text x="2492" y="373.5">protein<tspan x="2492" dy="13.2">kinase</tspan><tspan x="2492" dy="13.2">inhibitor</tspan><tspan x="2492" dy="13.2">activity</tspan><tspan x="2492" dy="13.2">5 genes</tspan><tspan x="2492" dy="13.2">adjP=4.61e-02</tspan></text></g>
<g id="endopeptidase_inhibitor_activity" class="n k"><rect x="2570" y="377" width="94" height="51"/><text x="2617" y="393.3">endopeptidase<tspan x="2617" dy="13.2">inhibitor</tspan><tspan x="2617" dy="13.2">activity</tspan></text></g>
<g id="serine_type_endopeptidase_inhibitor_activity" class="n r"><rect x="2570" y="492" width="94" height="91"/><text x="2617" y="508.5">serine-type<tspan x="2617" dy="13.2">endopeptidase</tspan><tspan x="2617" dy="13.2">inhibitor</tspan><tspan x="2617" dy="13.2">activity</tspan><tspan x="2617" dy="13.2">5 genes</tspan><tspan x="2617" dy="13.2">adjP=4.38e-02</tspan></text></g>
<g id="molecular_transducer_activity" class="n r"><rect x="2622" y="40" width="91" height="77"/><text x="2667.5" y="56.1">molecular<tspan x="2667.5" dy="13.2">transducer</tspan><tspan x="2667.5" dy="13.2">activity</tspan><tspan x="2667.5" dy="13.2">51 genes</tspan><tspan x="2667.5" dy="13.2">adjP=3.21e-08</tspan></text></g>
<g id="receptor_activity" class="n r"><rect x="2718" y="46" width="94" height="65"/><text x="2765" y="62.7">receptor<tspan x="2765" dy="13.2">activity</tspan><tspan x="2765" dy="13.2">52 genes</tspan><tspan x="2765" dy="13.2">adjP=3.42e-11</tspan></text></g>
<g id="signal_transducer_activity" class="n r"><rect x="2697" y="135" width="91" height="77"/><text x="2742.5" y="151.1">signal<tspan x="2742.5" dy="13.2">transducer</tspan><tspan x="2742.5" dy="13.2">activity</tspan><tspan x="2742.5" dy="13.2">51 genes</tspan><tspan x="2742.5" dy="13.2">adjP=3.21e-08</tspan></text></g>
<g id="signaling_receptor_activity" class="n r"><rect x="2748" y="243" width="91" height="77"/><text x="2793.5" y="259.1">signaling<tspan x="2793.5" dy="13.2">receptor</tspan><tspan x="2793.5" dy="13.2">activity</tspan><tspan x="2793.5" dy="13.2">37 genes</tspan><tspan x="2793.5" dy="13.2">adjP=9.64e-08</tspan></text></g>
<g id="coreceptor_activity" class="n r"><rect x="2693" y="370" width="91" height="65"/><text x="2738.5" y="386.7">coreceptor<tspan x="2738.5" dy="13.2">activity</tspan><tspan x="2738.5" dy="13.2">5 genes</tspan><tspan x="2738.5" dy="13.2">adjP=4.00e-04</tspan></text></g>
<g id="transmembrane_signaling_receptor_activity" class="n r"><rect x="2789" y="357" width="99" height="91"/><text x="2838.5" y="373.5">transmembrane<tspan x="2838.5" dy="13.2">signaling</tspan><tspan x="2838.5" dy="13.2">receptor</tspan><tspan x="2838.5" dy="13.2">activity</tspan><tspan x="2838.5" dy="13.2">28 genes</tspan><tspan x="2838.5" dy="13.2">adjP=7.19e-05</tspan></text></g>
<g id="G_protein_coupled_receptor_activity" class="n r"><rect x="2699" y="492" width="93" height="91"/><text x="2745.5" y="508.5">G-protein<tspan x="2745.5" dy="13.2">coupled</tspan><tspan x="2745.5" dy="13.2">receptor</tspan><tspan x="2745.5" dy="13.2">activity</tspan><tspan x="2745.5" dy="13.2">11 genes</tspan><tspan x="2745.5" dy="13.2">adjP=2.94e-02</tspan></text></g>
<g id="purinergic_receptor_activity" class="n r"><rect x="2797" y="498" width="91" height="78"/><text x="2842.5" y="514.6">purinergic<tspan x="2842.5" dy="13.2">receptor</tspan><tspan x="2842.5" dy="13.2">activity</tspan><tspan x="2842.5" dy="13.2">5 genes</tspan><tspan x="2842.5" dy="13.2">adjP=5.40e-03</tspan></text></g>
<g id="structural_molecule_activity" class="n k"><rect x="2817" y="53" width="70" height="51"/><text x="2852" y="69.3">structural<tspan x="2852" dy="13.2">molecule</tspan><tspan x="2852" dy="13.2">activity</tspan></text></g>
<g id="extracellular_matrix_structural_constituent" class="n r"><rect x="2806" y="128" width="91" height="91"/><text x="2851.5" y="144.5">extracellular<tspan x="2851.5" dy="13.2">matrix</tspan><tspan x="2851.5" dy="13.2">structural</tspan><tspan x="2851.5" dy="13.2">constituent</tspan><tspan x="2851.5" dy="13.2">6 genes</tspan><tspan x="2851.5" dy="13.2">adjP=4.00e-04</tspan></text></g>
<g id="transporter_activity" class="n k"><rect x="2914" y="60" width="75" height="37"/><text x="2951.5" y="75.9">transporter<tspan x="2951.5" dy="13.2">activity</tspan></text></g>
<g id="transmembrane_transporter_activity" class="n k"><rect x="2902" y="148" width="99" height="51"/><text x="2951.5" y="164.3">transmembrane<tspan x="2951.5" dy="13.2">transporter</tspan><tspan x="2951.5" dy="13.2">activity</tspan></text></g>
<g id="substrate_specific_transporter_activity" class="n k"><rect x="3006" y="148" width="107" height="51"/><text x="3059.5" y="164.3">substrate-specific<tspan x="3059.5" dy="13.2">transporter</tspan><tspan x="3059.5" dy="13.2">activity</tspan></text></g>
<g id="passive_transmembrane_transporter_activity" class="n r"><rect x="2902" y="236" width="99" height="90"/><text x="2951.5" y="252">passive<tspan x="2951.5" dy="13.2">transmembrane</tspan><tspan x="2951.5" dy="13.2">transporter</tspan><tspan x="2951.5" dy="13.2">activity</tspan><tspan x="2951.5" dy="13.2">13 genes</tspan><tspan x="2951.5" dy="13.2">adjP=6.40e-03</tspan></text></g>
<g id="channel_activity" class="n r"><rect x="2907" y="370" width="90" height="65"/><text x="2952" y="386.7">channel<tspan x="2952" dy="13.2">activity</tspan><tspan x="2952" dy="13.2">13 genes</tspan><tspan x="2952" dy="13.2">adjP=6.40e-03</tspan></text></g>
<g id="substrate_specific_transmembrane_transporter_activity" class="n k"><rect x="3006" y="370" width="107" height="65"/><text x="3059.5" y="386.7">substrate-specific<tspan x="3059.5" dy="13.2">transmembrane</tspan><tspan x="3059.5" dy="13.2">transporter</tspan><tspan x="3059.5" dy="13.2">activity</tspan></text></g>
<g id="gated_channel_activity" class="n r"><rect x="2901" y="498" width="93" height="78"/><text x="2947.5" y="514.6">gated<tspan x="2947.5" dy="13.2">channel</tspan><tspan x="2947.5" dy="13.2">activity</tspan><tspan x="2947.5" dy="13.2">8 genes</tspan><tspan x="2947.5" dy="13.2">adjP=4.61e-02</tspan></text></g>
<g id="substrate_specific_channel_activity" class="n r"><rect x="3000" y="498" width="106" height="78"/><text x="3053" y="514.6">substrate-specific<tspan x="3053" dy="13.2">channel</tspan><tspan x="3053" dy="13.2">activity</tspan><tspan x="3053" dy="13.2">12 genes</tspan><tspan x="3053" dy="13.2">adjP=9.80e-03</tspan></text></g>
<g id="ion_transmembrane_transporter_activity" class="n k"><rect x="3112" y="505" width="98" height="64"/><text x="3161" y="521.2">ion<tspan x="3161" dy="13.2">transmembrane</tspan><tspan x="3161" dy="13.2">transporter</tspan><tspan x="3161" dy="13.2">activity</tspan></text></g>
<g id="voltage_gated_channel_activity" class="n k"><rect x="2880" y="640" width="85" height="51"/><text x="2922.5" y="656.3">voltage-gated<tspan x="2922.5" dy="13.2">channel</tspan><tspan x="2922.5" dy="13.2">activity</tspan></text></g>
<g id="ion_gated_channel_activity" class="n k"><rect x="2970" y="633" width="62" height="64"/><text x="3001" y="649.2">ion<tspan x="3001" dy="13.2">gated</tspan><tspan x="3001" dy="13.2">channel</tspan><tspan x="3001" dy="13.2">activity</tspan></text></g>
<g id="ion_channel_activity" class="n r"><rect x="3037" y="626" width="94" height="78"/><text x="3084" y="642.6">ion<tspan x="3084" dy="13.2">channel</tspan><tspan x="3084" dy="13.2">activity</tspan><tspan x="3084" dy="13.2">11 genes</tspan><tspan x="3084" dy="13.2">adjP=2.18e-02</tspan></text></g>
<g id="cation_transmembrane_transporter_activity" class="n k"><rect x="3136" y="633" width="99" height="64"/><text x="3185.5" y="649.2">cation<tspan x="3185.5" dy="13.2">transmembrane</tspan><tspan x="3185.5" dy="13.2">transporter</tspan><tspan x="3185.5" dy="13.2">activity</tspan></text></g>
<g id="voltage_gated_ion_channel_activity" class="n k"><rect x="2961" y="741" width="86" height="64"/><text x="3004" y="757.2">voltage-gated<tspan x="3004" dy="13.2">ion</tspan><tspan x="3004" dy="13.2">channel</tspan><tspan x="3004" dy="13.2">activity</tspan></text></g>
<g id="cation_channel_activity" class="n k"><rect x="3053" y="748" width="61" height="51"/><text x="3083.5" y="764.3">cation<tspan x="3083.5" dy="13.2">channel</tspan><tspan x="3083.5" dy="13.2">activity</tspan></text></g>
<g id="inorganic_cation_transmembrane_transporter_activity" class="n k"><rect x="3128" y="735" width="99" height="77"/><text x="3177.5" y="751.1">inorganic<tspan x="3177.5" dy="13.2">cation</tspan><tspan x="3177.5" dy="13.2">transmembrane</tspan><tspan x="3177.5" dy="13.2">transporter</tspan><tspan x="3177.5" dy="13.2">activity</tspan></text></g>
<g id="voltage_gated_cation_channel_activity" class="n r"><rect x="2971" y="829" width="90" height="91"/><text x="3016" y="845.5">voltage-gated<tspan x="3016" dy="13.2">cation</tspan><tspan x="3016" dy="13.2">channel</tspan><tspan x="3016" dy="13.2">activity</tspan><tspan x="3016" dy="13.2">5 genes</tspan><tspan x="3016" dy="13.2">adjP=4.38e-02</tspan></text></g>
<g id="divalent_inorganic_cation_transmembrane_transporter_activity" class="n k"><rect x="3093" y="829" width="99" height="91"/><text x="3142.5" y="845.5">divalent<tspan x="3142.5" dy="13.2">inorganic</tspan><tspan x="3142.5" dy="13.2">cation</tspan><tspan x="3142.5" dy="13.2">transmembrane</tspan><tspan x="3142.5" dy="13.2">transporter</tspan><tspan x="3142.5" dy="13.2">activity</tspan></text></g>
<g id="metal_ion_transmembrane_transporter_activity" class="n k"><rect x="3197" y="836" width="99" height="77"/><text x="3246.5" y="852.1">metal<tspan x="3246.5" dy="13.2">ion</tspan><tspan x="3246.5" dy="13.2">transmembrane</tspan><tspan x="3246.5" dy="13.2">transporter</tspan><tspan x="3246.5" dy="13.2">activity</tspan></text></g>
<g id="calcium_ion_transmembrane_transporter_activity" class="n k"><rect x="3093" y="931" width="99" height="77"/><text x="3142.5" y="947.1">calcium<tspan x="3142.5" dy="13.2">ion</tspan><tspan x="3142.5" dy="13.2">transmembrane</tspan><tspan x="3142.5" dy="13.2">transporter</tspan><tspan x="3142.5" dy="13.2">activity</tspan></text></g>
<g id="calcium_channel_activity" class="n r"><rect x="3067" y="1019" width="93" height="77"/><text x="3113.5" y="1035.1">calcium<tspan x="3113.5" dy="13.2">channel</tspan><tspan x="3113.5" dy="13.2">activity</tspan><tspan x="3113.5" dy="13.2">6 genes</tspan><tspan x="3113.5" dy="13.2">adjP=2.18e-02</tspan></text></g>
<g id="cellular_component" class="n k"><rect x="3420" y="5" width="117" height="24"/><text x="3478.5" y="21">cellular_component</text></g>
<g id="extracellular_matrix" class="n r"><rect x="3173" y="46" width="91" height="65"/><text x="3218.5" y="62.7">extracellular<tspan x="3218.5" dy="13.2">matrix</tspan><tspan x="3218.5" dy="13.2">18 genes</tspan><tspan x="3218.5" dy="13.2">adjP=3.04e-06</tspan></text></g>
<g id="extracellular_region" class="n r"><rect x="3273" y="46" width="91" height="65"/><text x="3318.5" y="62.7">extracellular<tspan x="3318.5" dy="13.2">region</tspan><tspan x="3318.5" dy="13.2">79 genes</tspan><tspan x="3318.5" dy="13.2">adjP=9.06e-20</tspan></text></g>
<g id="membrane_enclosed_lumen" class="n k"><rect x="3382" y="60" width="123" height="37"/><text x="3443.5" y="75.9">membrane-enclosed<tspan x="3443.5" dy="13.2">lumen</tspan></text></g>
<g id="extracellular_matrix_part" class="n r"><rect x="3118" y="135" width="91" height="77"/><text x="3163.5" y="151.1">extracellular<tspan x="3163.5" dy="13.2">matrix</tspan><tspan x="3163.5" dy="13.2">part</tspan><tspan x="3163.5" dy="13.2">10 genes</tspan><tspan x="3163.5" dy="13.2">adjP=8.00e-04</tspan></text></g>
<g id="extracellular_region_part" class="n r"><rect x="3272" y="135" width="93" height="77"/><text x="3318.5" y="151.1">extracellular<tspan x="3318.5" dy="13.2">region</tspan><tspan x="3318.5" dy="13.2">part</tspan><tspan x="3318.5" dy="13.2">59 genes</tspan><tspan x="3318.5" dy="13.2">adjP=6.79e-21</tspan></text></g>
<g id="proteinaceous_extracellular_matrix" class="n r"><rect x="3169" y="243" width="91" height="77"/><text x="3214.5" y="259.1">proteinaceous<tspan x="3214.5" dy="13.2">extracellular</tspan><tspan x="3214.5" dy="13.2">matrix</tspan><tspan x="3214.5" dy="13.2">15 genes</tspan><tspan x="3214.5" dy="13.2">adjP=3.02e-05</tspan></text></g>
<g id="extracellular_space" class="n r"><rect x="3278" y="249" width="94" height="64"/><text x="3325" y="265.2">extracellular<tspan x="3325" dy="13.2">space</tspan><tspan x="3325" dy="13.2">52 genes</tspan><tspan x="3325" dy="13.2">adjP=6.87e-20</tspan></text></g>
<g id="basement_membrane" class="n r"><rect x="3168" y="370" width="93" height="65"/><text x="3214.5" y="386.7">basement<tspan x="3214.5" dy="13.2">membrane</tspan><tspan x="3214.5" dy="13.2">6 genes</tspan><tspan x="3214.5" dy="13.2">adjP=1.34e-02</tspan></text></g>
<g id="cell" class="n k"><rect x="3628" y="66" width="37" height="25"/><text x="3646.5" y="82.5">cell</text></g>
<g id="synapse" class="n r"><rect x="3865" y="53" width="94" height="51"/><text x="3912" y="69.3">synapse<tspan x="3912" dy="13.2">17 genes</tspan><tspan x="3912" dy="13.2">adjP=1.77e-02</tspan></text></g>
<g id="macromolecular_complex" class="n k"><rect x="3995" y="60" width="98" height="37"/><text x="4044" y="75.9">macromolecular<tspan x="4044" dy="13.2">complex</tspan></text></g>
<g id="cell_part" class="n k"><rect x="3730" y="155" width="41" height="37"/><text x="3750.5" y="170.9">cell<tspan x="3750.5" dy="13.2">part</tspan></text></g>
<g id="membrane" class="n r"><rect x="3816" y="148" width="93" height="51"/><text x="3862.5" y="164.3">membrane<tspan x="3862.5" dy="13.2">209 genes</tspan><tspan x="3862.5" dy="13.2">adjP=4.21e-07</tspan></text></g>
<g id="synapse_part" class="n r"><rect x="3914" y="141" width="94" height="64"/><text x="3961" y="157.2">synapse<tspan x="3961" dy="13.2">part</tspan><tspan x="3961" dy="13.2">13 genes</tspan><tspan x="3961" dy="13.2">adjP=1.86e-02</tspan></text></g>
<g id="protein_complex" class="n k"><rect x="4046" y="155" width="60" height="37"/><text x="4076" y="170.9">protein<tspan x="4076" dy="13.2">complex</tspan></text></g>
<g id="intracellular" class="n k"><rect x="3657" y="269" width="82" height="24"/><text x="3698" y="285">intracellular</text></g>
<g id="cell_periphery" class="n r"><rect x="3760" y="249" width="93" height="64"/><text x="3806.5" y="265.2">cell<tspan x="3806.5" dy="13.2">periphery</tspan><tspan x="3806.5" dy="13.2">157 genes</tspan><tspan x="3806.5" dy="13.2">adjP=5.11e-21</tspan></text></g>
<g id="membrane_part" class="n r"><rect x="3872" y="249" width="91" height="64"/><text x="3917.5" y="265.2">membrane<tspan x="3917.5" dy="13.2">part</tspan><tspan x="3917.5" dy="13.2">152 genes</tspan><tspan x="3917.5" dy="13.2">adjP=2.00e-04</tspan></text></g>
<g id="synaptic_membrane" class="n r"><rect x="3968" y="249" width="91" height="64"/><text x="4013.5" y="265.2">synaptic<tspan x="4013.5" dy="13.2">membrane</tspan><tspan x="4013.5" dy="13.2">10 genes</tspan><tspan x="4013.5" dy="13.2">adjP=3.50e-03</tspan></text></g>
<g id="receptor_complex" class="n r"><rect x="4064" y="249" width="88" height="64"/><text x="4108" y="265.2">receptor<tspan x="4108" dy="13.2">complex</tspan><tspan x="4108" dy="13.2">11 genes</tspan><tspan x="4108" dy="13.2">adjP=3.00e-03</tspan></text></g>
<g id="organelle" class="n k"><rect x="3481" y="390" width="67" height="25"/><text x="3514.5" y="406.5">organelle</text></g>
<g id="intracellular_part" class="n k"><rect x="3597" y="384" width="83" height="37"/><text x="3638.5" y="399.9">intracellular<tspan x="3638.5" dy="13.2">part</tspan></text></g>
<g id="cell_surface" class="n r"><rect x="3685" y="370" width="93" height="65"/><text x="3731.5" y="386.7">cell<tspan x="3731.5" dy="13.2">surface</tspan><tspan x="3731.5" dy="13.2">39 genes</tspan><tspan x="3731.5" dy="13.2">adjP=3.75e-12</tspan></text></g>
<g id="plasma_membrane" class="n r"><rect x="3816" y="370" width="93" height="65"/><text x="3862.5" y="386.7">plasma<tspan x="3862.5" dy="13.2">membrane</tspan><tspan x="3862.5" dy="13.2">154 genes</tspan><tspan x="3862.5" dy="13.2">adjP=5.31e-21</tspan></text></g>
<g id="postsynaptic_membrane" class="n r"><rect x="3968" y="370" width="91" height="65"/><text x="4013.5" y="386.7">postsynaptic<tspan x="4013.5" dy="13.2">membrane</tspan><tspan x="4013.5" dy="13.2">9 genes</tspan><tspan x="4013.5" dy="13.2">adjP=4.00e-03</tspan></text></g>
<g id="organelle_part" class="n k"><rect x="3381" y="518" width="66" height="38"/><text x="3414" y="534.4">organelle<tspan x="3414" dy="13.2">part</tspan></text></g>
<g id="membrane_bounded_organelle" class="n k"><rect x="3453" y="518" width="123" height="37"/><text x="3514.5" y="533.9">membrane-bounded<tspan x="3514.5" dy="13.2">organelle</tspan></text></g>
<g id="intracellular_organelle" class="n k"><rect x="3594" y="518" width="83" height="37"/><text x="3635.5" y="533.9">intracellular<tspan x="3635.5" dy="13.2">organelle</tspan></text></g>
<g id="cytoplasm" class="n k"><rect x="3696" y="525" width="69" height="24"/><text x="3730.5" y="541">cytoplasm</text></g>
<g id="plasma_membrane_part" class="n r"><rect x="3819" y="498" width="90" height="78"/><text x="3864" y="514.6">plasma<tspan x="3864" dy="13.2">membrane</tspan><tspan x="3864" dy="13.2">part</tspan><tspan x="3864" dy="13.2">77 genes</tspan><tspan x="3864" dy="13.2">adjP=3.77e-11</tspan></text></g>
<g id="intrinsic_to_membrane" class="n r"><rect x="3914" y="498" width="94" height="78"/><text x="3961" y="514.6">intrinsic<tspan x="3961" dy="13.2">to</tspan><tspan x="3961" dy="13.2">membrane</tspan><tspan x="3961" dy="13.2">133 genes</tspan><tspan x="3961" dy="13.2">adjP=7.56e-05</tspan></text></g>
<g id="organelle_lumen" class="n k"><rect x="3360" y="647" width="67" height="37"/><text x="3393.5" y="662.9">organelle<tspan x="3393.5" dy="13.2">lumen</tspan></text></g>
<g id="intracellular_membrane_bounded_organelle" class="n k"><rect x="3520" y="640" width="123" height="51"/><text x="3581.5" y="656.3">intracellular<tspan x="3581.5" dy="13.2">membrane-bounded</tspan><tspan x="3581.5" dy="13.2">organelle</tspan></text></g>
<g id="cytoplasmic_part" class="n k"><rect x="3648" y="647" width="77" height="37"/><text x="3686.5" y="662.9">cytoplasmic<tspan x="3686.5" dy="13.2">part</tspan></text></g>
<g id="vesicle" class="n k"><rect x="3745" y="653" width="54" height="24"/><text x="3772" y="669">vesicle</text></g>
<g id="external_side_of_plasma_membrane" class="n r"><rect x="3817" y="613" width="93" height="104"/><text x="3863.5" y="629.4">external<tspan x="3863.5" dy="13.2">side</tspan><tspan x="3863.5" dy="13.2">of</tspan><tspan x="3863.5" dy="13.2">plasma</tspan><tspan x="3863.5" dy="13.2">membrane</tspan><tspan x="3863.5" dy="13.2">27 genes</tspan><tspan x="3863.5" dy="13.2">adjP=2.99e-14</tspan></text></g>
<g id="intrinsic_to_plasma_membrane" class="n r"><rect x="3916" y="620" width="91" height="91"/><text x="3961.5" y="636.5">intrinsic<tspan x="3961.5" dy="13.2">to</tspan><tspan x="3961.5" dy="13.2">plasma</tspan><tspan x="3961.5" dy="13.2">membrane</tspan><tspan x="3961.5" dy="13.2">44 genes</tspan><tspan x="3961.5" dy="13.2">adjP=6.50e-06</tspan></text></g>
<g id="integral_to_membrane" class="n r"><rect x="4012" y="626" width="90" height="78"/><text x="4057" y="642.6">integral<tspan x="4057" dy="13.2">to</tspan><tspan x="4057" dy="13.2">membrane</tspan><tspan x="4057" dy="13.2">132 genes</tspan><tspan x="4057" dy="13.2">adjP=6.43e-05</tspan></text></g>
<g id="intracellular_organelle_part" class="n k"><rect x="3402" y="748" width="83" height="51"/><text x="3443.5" y="764.3">intracellular<tspan x="3443.5" dy="13.2">organelle</tspan><tspan x="3443.5" dy="13.2">part</tspan></text></g>
<g id="vacuole" class="n k"><rect x="3504" y="761" width="58" height="24"/><text x="3533" y="777">vacuole</text></g>
<g id="Golgi_apparatus" class="n k"><rect x="3568" y="755" width="69" height="37"/><text x="3602.5" y="770.9">Golgi<tspan x="3602.5" dy="13.2">apparatus</tspan></text></g>
<g id="cytoplasmic_vesicle" class="n k"><rect x="3669" y="755" width="77" height="37"/><text x="3707.5" y="770.9">cytoplasmic<tspan x="3707.5" dy="13.2">vesicle</tspan></text></g>
<g id="membrane_bounded_vesicle" class="n k"><rect x="3752" y="755" width="123" height="37"/><text x="3813.5" y="770.9">membrane-bounded<tspan x="3813.5" dy="13.2">vesicle</tspan></text></g>
<g id="integral_to_plasma_membrane" class="n r"><rect x="3964" y="728" width="91" height="90"/><text x="4009.5" y="744">integral<tspan x="4009.5" dy="13.2">to</tspan><tspan x="4009.5" dy="13.2">plasma</tspan><tspan x="4009.5" dy="13.2">membrane</tspan><tspan x="4009.5" dy="13.2">44 genes</tspan><tspan x="4009.5" dy="13.2">adjP=3.13e-06</tspan></text></g>
<g id="intracellular_organelle_lumen" class="n k"><rect x="3375" y="849" width="83" height="51"/><text x="3416.5" y="865.3">intracellular<tspan x="3416.5" dy="13.2">organelle</tspan><tspan x="3416.5" dy="13.2">lumen</tspan></text></g>
<g id="vacuolar_part" class="n k"><rect x="3463" y="856" width="61" height="37"/><text x="3493.5" y="871.9">vacuolar<tspan x="3493.5" dy="13.2">part</tspan></text></g>
<g id="Golgi_apparatus_part" class="n k"><rect x="3546" y="849" width="69" height="51"/><text x="3580.5" y="865.3">Golgi<tspan x="3580.5" dy="13.2">apparatus</tspan><tspan x="3580.5" dy="13.2">part</tspan></text></g>
<g id="lytic_vacuole" class="n k"><rect x="3625" y="856" width="59" height="37"/><text x="3654.5" y="871.9">lytic<tspan x="3654.5" dy="13.2">vacuole</tspan></text></g>
<g id="cytoplasmic_membrane_bounded_vesicle" class="n k"><rect x="3724" y="849" width="122" height="51"/><text x="3785" y="865.3">cytoplasmic<tspan x="3785" dy="13.2">membrane-bounded</tspan><tspan x="3785" dy="13.2">vesicle</tspan></text></g>
<g id="vacuolar_lumen" class="n r"><rect x="3429" y="937" width="93" height="65"/><text x="3475.5" y="953.7">vacuolar<tspan x="3475.5" dy="13.2">lumen</tspan><tspan x="3475.5" dy="13.2">7 genes</tspan><tspan x="3475.5" dy="13.2">adjP=1.40e-02</tspan></text></g>
<g id="Golgi_lumen" class="n r"><rect x="3528" y="937" width="93" height="65"/><text x="3574.5" y="953.7">Golgi<tspan x="3574.5" dy="13.2">lumen</tspan><tspan x="3574.5" dy="13.2">5 genes</tspan><tspan x="3574.5" dy="13.2">adjP=1.16e-02</tspan></text></g>
<g id="lysosome" class="n k"><rect x="3627" y="957" width="63" height="24"/><text x="3658.5" y="973">lysosome</text></g>
<g id="endocytic_vesicle" class="n k"><rect x="3698" y="950" width="66" height="38"/><text x="3731" y="966.4">endocytic<tspan x="3731" dy="13.2">vesicle</tspan></text></g>
<g id="secretory_granule" class="n r"><rect x="3769" y="937" width="94" height="65"/><text x="3816" y="953.7">secretory<tspan x="3816" dy="13.2">granule</tspan><tspan x="3816" dy="13.2">11 genes</tspan><tspan x="3816" dy="13.2">adjP=3.28e-02</tspan></text></g>
<g id="lysosomal_lumen" class="n r"><rect x="3504" y="1026" width="93" height="63"/><text x="3550.5" y="1041.7">lysosomal<tspan x="3550.5" dy="13.2">lumen</tspan><tspan x="3550.5" dy="13.2">7 genes</tspan><tspan x="3550.5" dy="13.2">adjP=1.16e-02</tspan></text></g>
<g id="phagocytic_vesicle" class="n r"><rect x="3677" y="1026" width="94" height="63"/><text x="3724" y="1041.7">phagocytic<tspan x="3724" dy="13.2">vesicle</tspan><tspan x="3724" dy="13.2">6 genes</tspan><tspan x="3724" dy="13.2">adjP=3.28e-02</tspan></text></g>
<g id="platelet_alpha_granule" class="n r"><rect x="3776" y="1019" width="91" height="77"/><text x="3821.5" y="1035.1">platelet<tspan x="3821.5" dy="13.2">alpha</tspan><tspan x="3821.5" dy="13.2">granule</tspan><tspan x="3821.5" dy="13.2">5 genes</tspan><tspan x="3821.5" dy="13.2">adjP=3.03e-02</tspan></text></g>
</g>
</svg>
